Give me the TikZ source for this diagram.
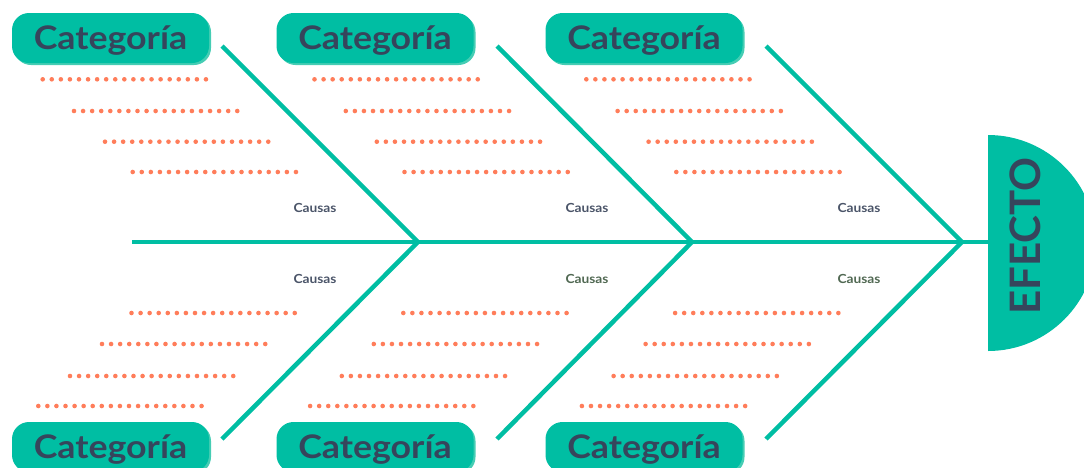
\documentclass[tikz,border=0pt]{standalone}
\usepackage{fontspec}
\setmainfont{Lato}
\newfontfamily\widefont{Lato}[FakeStretch=1.1]
\definecolor{tealm}{RGB}{0,190,163}
\definecolor{teall}{RGB}{70,205,180}
\definecolor{darkt}{RGB}{54,69,92}
\definecolor{coral}{RGB}{255,125,90}
\definecolor{causag}{RGB}{74,84,104}
\definecolor{causagr}{RGB}{80,104,82}
\tikzset{
  catbox/.style={rectangle, rounded corners=17pt, fill=tealm, minimum width=197pt, minimum height=50pt,
    inner sep=0pt, text height=23pt, text depth=0pt, text=darkt, font=\widefont\fontsize{32.5}{32}\selectfont\bfseries},
  catshadow/.style={rectangle, rounded corners=17pt, fill=teall, minimum width=197pt, minimum height=50pt, inner sep=0pt},
  bone/.style={draw=tealm, line width=4.5pt},
  causa/.style={font=\widefont\fontsize{12.5}{12.5}\selectfont\bfseries, text=causag, inner sep=0pt},
  causab/.style={causa, text=causagr},
  efectotxt/.style={font=\fontsize{42}{42}\selectfont\bfseries, text=darkt, inner sep=0pt, rotate=90}
}
\begin{document}
\begin{tikzpicture}[x=1pt,y=-1pt]
\useasboundingbox (0,0) rectangle (1084,467);
\clip (0,0) rectangle (1084,467);
% spine coordinates
\coordinate (tail) at (132,242);
\coordinate (j1) at (418,242);
\coordinate (j2) at (692,242);
\coordinate (j3) at (962,242);
\coordinate (head) at (990,242);
\coordinate (t1) at (222,46);
\coordinate (t2) at (497,46);
\coordinate (t3) at (766,46);
\coordinate (b1) at (222,439);
\coordinate (b2) at (497,439);
\coordinate (b3) at (766,439);
% effect head
\begin{scope}
\clip (988,0) rectangle (1084,467);
\fill[tealm] (988,243) circle[radius=108pt];
\end{scope}
\node[efectotxt] (efecto) at (1025,236) {EFECTO};
% bones
\draw[bone] (tail) -- (head);
\draw[bone] (t1) -- (j1) -- (b1);
\draw[bone] (t2) -- (j2) -- (b2);
\draw[bone] (t3) -- (j3) -- (b3);
% category boxes
\foreach \cx/\cy/\nm in {110.5/38/ct1, 375/38/ct2, 644/38/ct3, 110.5/447/cb1, 375/447/cb2, 644/447/cb3}{
  \node[catshadow] at (\cx+2,\cy+2) {};
  \node[catbox] (\nm) at (\cx,\cy) {Categoría};
}
% causas labels
\node[causa] (c1) at (315,208) {Causas};
\node[causa] (c2) at (587,208) {Causas};
\node[causa] (c3) at (859,208) {Causas};
\node[causa] (c4) at (315,279) {Causas};
\node[causab] (c5) at (587,279) {Causas};
\node[causab] (c6) at (859,279) {Causas};
% dotted lines
\foreach \g in {0,1,2}{
  \foreach \x/\y in {42.7/79.3, 74/111, 105/141.7, 132.7/172, 131.5/313, 102/344, 70/376, 38.3/406}{
    \foreach \k in {0,...,18}{
      \fill[coral] (\x+\g*271.8+\k*9.07,\y) circle[radius=2.3pt];
    }
  }
}
\end{tikzpicture}
\end{document}
